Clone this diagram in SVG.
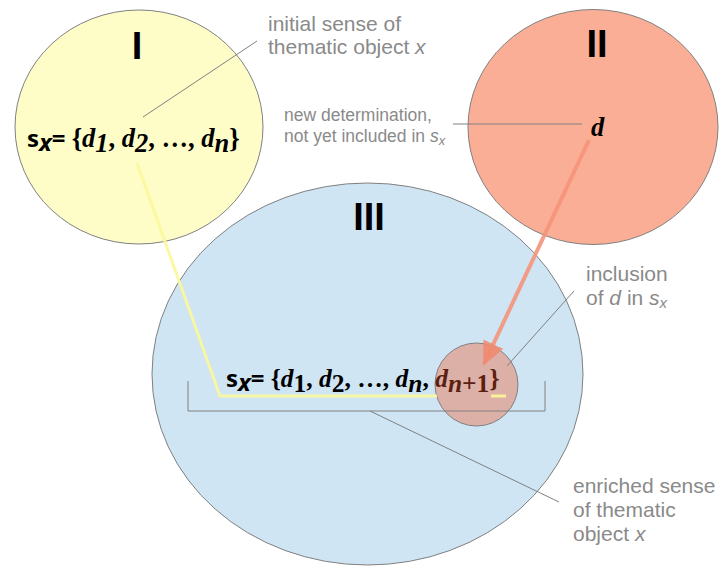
<svg xmlns="http://www.w3.org/2000/svg" width="721" height="568" viewBox="0 0 721 568">
<style>
.c{stroke:#808080;stroke-width:1}
.t{font-family:"Liberation Sans",Arial,sans-serif;font-weight:bold;font-size:38px;fill:#000;text-anchor:middle}
.lab{font-family:"Liberation Sans",Arial,sans-serif;font-size:21px;fill:#8a8a8a}
.lab2{font-family:"Liberation Sans",Arial,sans-serif;font-size:17.5px;fill:#8a8a8a}
.ss{font-family:"Open Sans","Liberation Sans",sans-serif;font-weight:bold;font-size:24px}
.sr{font-family:"Liberation Serif","DejaVu Serif",serif;font-weight:bold;font-size:26.5px}
.sr3{font-family:"Liberation Serif","DejaVu Serif",serif;font-weight:bold;font-size:25.5px}
.gl{stroke:#808080;stroke-width:1;fill:none}
</style>
<defs>
<marker id="ah" markerUnits="userSpaceOnUse" markerWidth="24" markerHeight="24" viewBox="0 0 24 24" refX="22" refY="12" orient="auto">
<path d="M0,1 L24,12 L0,23 Z" fill="#f08a6e" fill-opacity="0.85"/>
</marker>
</defs>
<g id="circle-I">
<ellipse class="c" cx="139" cy="127" rx="124" ry="117" fill="#fefdc8"/>
<text class="t" x="137" y="59">I</text>
<text x="27" y="147"><tspan class="ss">s</tspan><tspan class="ss" font-size="17" dy="4" font-style="italic">x</tspan><tspan class="ss" dy="-4">= </tspan><tspan class="sr">{</tspan><tspan class="sr" font-style="italic">d</tspan><tspan class="sr" font-style="italic" font-size="17" dy="5">1</tspan><tspan class="sr" dy="-5">, </tspan><tspan class="sr" font-style="italic">d</tspan><tspan class="sr" font-style="italic" font-size="17" dy="5">2</tspan><tspan class="sr" dy="-5">, …, </tspan><tspan class="sr" font-style="italic">d</tspan><tspan class="sr" font-style="italic" font-size="17" dy="5">n</tspan><tspan class="sr" dy="-5">}</tspan></text>
</g>
<g id="circle-II">
<ellipse class="c" cx="593" cy="127" rx="125" ry="117.5" fill="#fbae96"/>
<text class="t" x="597" y="57">II</text>
<text class="sr" x="591" y="136" font-style="italic">d</text>
</g>
<g id="circle-III">
<ellipse class="c" cx="367.5" cy="374" rx="215.5" ry="191" fill="#cfe5f3"/>
<text class="t" x="369" y="230">III</text>
</g>
<g id="inclusion-circle">
<circle class="c" cx="476.5" cy="384.5" r="41.5" fill="#dcb0a6"/>
</g>
<g id="set-III">
<text x="226" y="387"><tspan class="ss">s</tspan><tspan class="ss" font-size="17" dy="4" font-style="italic">x</tspan><tspan class="ss" dy="-4">= </tspan><tspan class="sr3">{</tspan><tspan class="sr3" font-style="italic">d</tspan><tspan class="sr3" font-size="16" dy="5">1</tspan><tspan class="sr3" dy="-5">, </tspan><tspan class="sr3" font-style="italic">d</tspan><tspan class="sr3" font-size="16" dy="5">2</tspan><tspan class="sr3" dy="-5">, …, </tspan><tspan class="sr3" font-style="italic">d</tspan><tspan class="sr3" font-style="italic" font-size="16" dy="5">n</tspan><tspan class="sr3" dy="-5">, </tspan><tspan class="sr3" font-style="italic" fill="#5b2010">d</tspan><tspan class="sr3" font-size="16" dy="5" fill="#5b2010"><tspan font-style="italic">n</tspan>+1</tspan><tspan class="sr3" dy="-5" fill="#5b2010">}</tspan></text>
</g>
<g id="bracket">
<path class="gl" d="M188,381 V411 H545 V381"/>
</g>
<g id="connectors">
<polyline points="137,163 220,396 437,396" fill="none" stroke="#fbf79a" stroke-opacity="0.9" stroke-width="3"/>
<line x1="491" y1="396" x2="506" y2="396" stroke="#fbf09a" stroke-width="3"/>
<line x1="589" y1="140" x2="484" y2="364" stroke="#f4937a" stroke-opacity="0.9" stroke-width="4" marker-end="url(#ah)"/>
<line class="gl" x1="143" y1="117" x2="257" y2="41"/>
<line class="gl" x1="453" y1="124" x2="582" y2="124"/>
<line class="gl" x1="574" y1="291" x2="507" y2="366"/>
<line class="gl" x1="370" y1="411" x2="559" y2="502"/>
</g>
<g id="labels">
<text class="lab" x="268" y="31">initial sense of</text>
<text class="lab" x="268" y="54">thematic object <tspan font-style="italic">x</tspan></text>
<text class="lab2" x="284" y="121">new determination,</text>
<text class="lab2" x="284" y="142">not yet included in <tspan font-style="italic">s</tspan><tspan font-style="italic" font-size="13" dy="3">x</tspan></text>
<text class="lab" x="586" y="281">inclusion</text>
<text class="lab" x="586" y="305">of <tspan font-style="italic">d</tspan> in <tspan font-style="italic">s</tspan><tspan font-style="italic" font-size="15" dy="3">x</tspan></text>
<text class="lab" x="573" y="493">enriched sense</text>
<text class="lab" x="573" y="517">of thematic</text>
<text class="lab" x="573" y="541">object <tspan font-style="italic">x</tspan></text>
</g>
</svg>
